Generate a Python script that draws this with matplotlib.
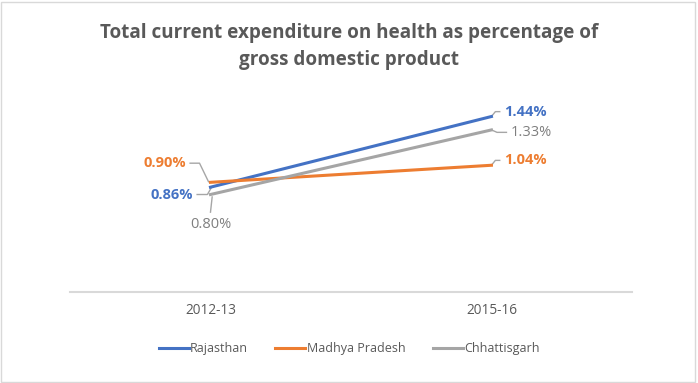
import matplotlib.pyplot as plt
from matplotlib.patches import Rectangle

# data
years = ["2012-13", "2015-16"]
rajasthan = [0.86, 1.44]
madhya_pradesh = [0.90, 1.04]
chhattisgarh = [0.80, 1.33]

plt.rcParams['font.family'] = ['Open Sans', 'DejaVu Sans']

fig = plt.figure(figsize=(6.98, 3.83), dpi=100)
ax = fig.add_axes([0.1003, 0.2376, 0.805, 0.5091])

x = [0, 1]
ax.plot(x, rajasthan, color="#4472C4", lw=2.2, label="Rajasthan", zorder=3)
ax.plot(x, madhya_pradesh, color="#ED7D31", lw=2.2, label="Madhya Pradesh", zorder=3)
ax.plot(x, chhattisgarh, color="#A5A5A5", lw=2.2, label="Chhattisgarh", zorder=3)

ax.set_xlim(-0.5, 1.5)
ax.set_ylim(0, 1.6)
ax.set_yticks([])
ax.set_xticks(x)
ax.set_xticklabels(years, fontsize=9.8, color="#595959")
ax.tick_params(axis="x", length=0, pad=8)
for s in ["top", "right", "left"]:
    ax.spines[s].set_visible(False)
ax.spines["bottom"].set_color("#D9D9D9")
ax.spines["bottom"].set_linewidth(1.5)

lead = "#A6A6A6"

def label(px, py, text, color, bold, ha, tx, ty, knee_x, end_dx=0.0):
    # leader: from the point to a knee, then horizontal to the text
    ax.plot([px + end_dx, knee_x, tx], [py, ty, ty], color=lead, lw=1, zorder=2,
            solid_capstyle="butt")
    gap = -0.012 if ha == "right" else 0.012
    ax.text(tx + gap, ty, text, fontsize=10.5, color=color, ha=ha, va="center",
            fontweight="bold" if bold else "normal")

label(0, madhya_pradesh[0], "0.90%", "#ED7D31", True, "right", -0.075, 1.057, -0.039, -0.006)
label(0, rajasthan[0], "0.86%", "#4472C4", True, "right", -0.05, 0.80, -0.011, 0.004)
label(1, rajasthan[1], "1.44%", "#4472C4", True, "left", 1.032, 1.48, 1.014, 0.0)
label(1, chhattisgarh[1], "1.33%", "#7F7F7F", False, "left", 1.056, 1.31, 1.02, 0.0)
label(1, madhya_pradesh[1], "1.04%", "#ED7D31", True, "left", 1.032, 1.08, 1.014, 0.0)

# 0.80% sits below its point with a vertical leader
ax.plot([0.006, 0.0], [chhattisgarh[0] - 0.02, 0.655], color=lead, lw=1, zorder=2)
ax.text(0.0, 0.557, "0.80%", fontsize=10.5, color="#7F7F7F", ha="center", va="center")

fig.text(0.5, 0.913, "Total current expenditure on health as percentage of",
         ha="center", va="center", fontsize=13.6, color="#595959", fontweight="bold")
fig.text(0.5, 0.843, "gross domestic product",
         ha="center", va="center", fontsize=13.6, color="#595959", fontweight="bold")

fig.legend(loc="center", bbox_to_anchor=(0.5, 0.09), ncol=3, frameon=False,
           fontsize=9, labelcolor="#595959", handlelength=2.4, handletextpad=0.1,
           columnspacing=2.2)

fig.patches.append(Rectangle((0.002, 0.003), 0.994, 0.992, transform=fig.transFigure,
                             fill=False, edgecolor="#D9D9D9", lw=1))

fig.savefig("out.png", dpi=100)
